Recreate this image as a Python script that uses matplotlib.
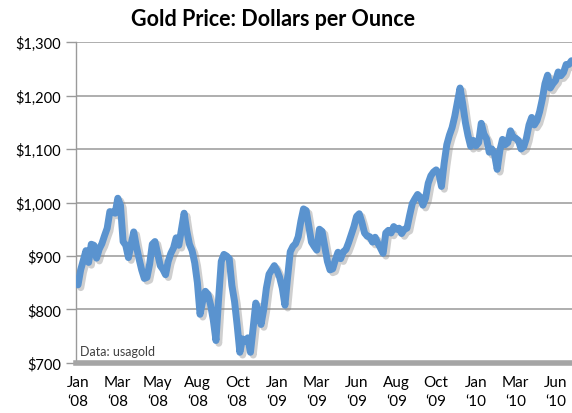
import matplotlib
matplotlib.use("Agg")
import matplotlib.pyplot as plt
import matplotlib.patheffects as pe

plt.rcParams['font.family'] = ['Lato', 'DejaVu Sans']

# gold price, sampled evenly along the chart (15 samples per label step)
prices = [
    846, 874, 892, 910, 888, 922, 920, 896, 913, 923,
    938, 952, 983, 982, 980, 1008, 995, 927, 920, 897,
    921, 945, 918, 895, 874, 858, 860, 885, 922, 927,
    905, 882, 875, 865, 890, 905, 915, 934, 920, 950,
    980, 947, 922, 910, 887, 850, 791, 816, 834, 828,
    808, 780, 742, 820, 890, 903, 900, 895, 845, 815,
    770, 720, 745, 740, 747, 720, 765, 812, 795, 772,
    800, 840, 866, 874, 882, 873, 860, 840, 808, 860,
    908, 918, 923, 936, 965, 988, 985, 955, 926, 918,
    911, 950, 946, 918, 890, 874, 876, 893, 907, 895,
    908, 912, 925, 940, 955, 974, 979, 963, 943, 937,
    936, 926, 935, 924, 915, 905, 943, 948, 943, 955,
    950, 952, 942, 950, 952, 976, 998, 1007, 1015, 1010,
    995, 1008, 1036, 1050, 1057, 1061, 1055, 1030, 1073, 1108,
    1126, 1140, 1161, 1188, 1214, 1185, 1150, 1125, 1105, 1116,
    1106, 1112, 1148, 1128, 1119, 1094, 1100, 1090, 1062, 1097,
    1118, 1108, 1112, 1134, 1122, 1120, 1116, 1100, 1104, 1120,
    1145, 1159, 1145, 1153, 1170, 1193, 1222, 1238, 1214, 1222,
    1228, 1244, 1237, 1243, 1258, 1258, 1265,
]
months = ["Jan", "Mar", "May", "Aug", "Oct", "Jan", "Mar", "Jun",
          "Aug", "Oct", "Jan", "Mar", "Jun"]
years = ["08", "08", "08", "08", "08", "09", "09", "09",
         "09", "09", "10", "10", "10"]
y_ticks = [700, 800, 900, 1000, 1100, 1200, 1300]

fig = plt.figure(figsize=(5.72, 4.14), dpi=100)
ax = fig.add_axes([0.1329, 0.1208, 0.8671, 0.7753])

x = list(range(len(prices)))
ax.plot(x, prices, color='#5A93CF', lw=5, solid_joinstyle='round',
        solid_capstyle='round', zorder=3,
        path_effects=[pe.SimpleLineShadow(offset=(2, -2), shadow_color='#888888', alpha=0.4),
                      pe.Normal()])

ax.set_xlim(-0.75, 186.2)
ax.set_ylim(700, 1300)
ax.set_yticks(y_ticks)
ax.set_yticklabels([f"${v:,}" for v in y_ticks], fontsize=10.5)
ax.set_xticks([15 * k for k in range(len(months))])
ax.set_xticklabels([f"{m}\n\u2018{y}" for m, y in zip(months, years)], fontsize=11,
                   linespacing=1.45)

ax.grid(axis='y', color='#A8A8A8', lw=1.3)
ax.set_axisbelow(True)
for s in ['top', 'right']:
    ax.spines[s].set_visible(False)
ax.spines['left'].set_color('#9A9A9A')
ax.spines['left'].set_linewidth(1.0)
ax.spines['bottom'].set_color('#A5A5A5')
ax.spines['bottom'].set_linewidth(4)
ax.spines['bottom'].set_zorder(4)
ax.tick_params(axis='y', length=7, width=1, color='#9A9A9A', pad=4)
ax.tick_params(axis='x', length=0, pad=9)

ax.text(0.008, 0.018, "Data: usagold", transform=ax.transAxes, fontsize=9,
        color='#404040', va='bottom', ha='left')

fig.text(0.477, 0.953, "Gold Price: Dollars per Ounce", fontsize=15.5, fontweight='bold',
         ha='center', va='center')

fig.savefig("out.png", dpi=100)
